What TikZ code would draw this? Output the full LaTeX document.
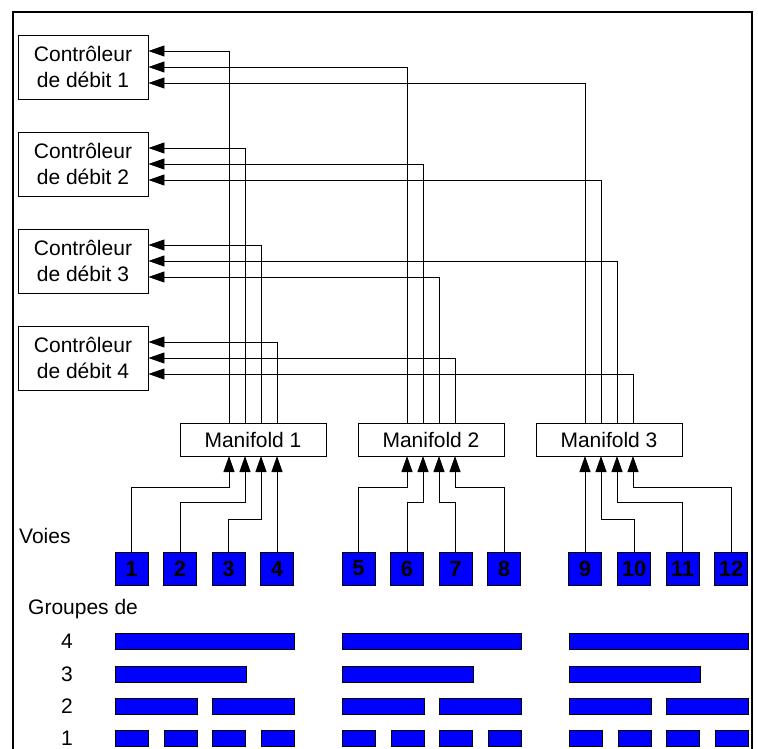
\documentclass[tikz,border=0pt]{standalone}
\usepackage{fontspec}
\setmainfont{Liberation Sans}
\usepackage{tikz}
\usetikzlibrary{positioning, arrows.meta}

\tikzset{
  ctrl/.style={draw=black, line width=0.9pt, minimum width=130pt, minimum height=64pt, inner sep=0pt, align=center, font=\fontsize{21}{26}\selectfont},
  mani/.style={draw=black, line width=0.9pt, minimum width=146pt, minimum height=33pt, inner sep=0pt, font=\fontsize{21}{24}\selectfont},
  voie/.style={draw=black, line width=0.9pt, fill=blue, minimum size=33pt, inner sep=0pt, font=\fontsize{22}{24}\selectfont\bfseries},
  barre/.style={draw=black, line width=0.9pt, fill=blue, minimum height=16pt, inner sep=0pt, anchor=west},
  lbl/.style={inner sep=0pt, font=\fontsize{21}{24}\selectfont},
  arr/.style={line width=0.9pt, -{Triangle[length=16pt, width=11pt]}}
}

\begin{document}
\begin{tikzpicture}[x=1pt, y=-1pt]
            \useasboundingbox (0,0) rectangle (758,749);
            \draw[line width=1.8pt] (13,752) -- (13,12) -- (752,12) -- (752,752);

            \node[ctrl] (c1) at (83, 67) {Contrôleur\\de débit 1};
            \node[ctrl] (c2) at (83, 164) {Contrôleur\\de débit 2};
            \node[ctrl] (c3) at (83, 261) {Contrôleur\\de débit 3};
            \node[ctrl] (c4) at (83, 358) {Contrôleur\\de débit 4};

            \coordinate (c1a) at ([yshift=16pt]c1.east);
            \coordinate (c1b) at (c1.east);
            \coordinate (c1c) at ([yshift=-16pt]c1.east);
            \coordinate (c2a) at ([yshift=16pt]c2.east);
            \coordinate (c2b) at (c2.east);
            \coordinate (c2c) at ([yshift=-16pt]c2.east);
            \coordinate (c3a) at ([yshift=16pt]c3.east);
            \coordinate (c3b) at (c3.east);
            \coordinate (c3c) at ([yshift=-16pt]c3.east);
            \coordinate (c4a) at ([yshift=16pt]c4.east);
            \coordinate (c4b) at (c4.east);
            \coordinate (c4c) at ([yshift=-16pt]c4.east);

            \node[mani] (m1) at (253, 439.5) {Manifold 1};
            \node[mani] (m2) at (431, 439.5) {Manifold 2};
            \node[mani] (m3) at (609, 439.5) {Manifold 3};

            \coordinate (m1a) at (229, 456);
            \coordinate (m1b) at (245, 456);
            \coordinate (m1c) at (261, 456);
            \coordinate (m1d) at (277, 456);
            \coordinate (m2a) at (407, 456);
            \coordinate (m2b) at (423, 456);
            \coordinate (m2c) at (439, 456);
            \coordinate (m2d) at (455, 456);
            \coordinate (m3a) at (585, 456);
            \coordinate (m3b) at (601, 456);
            \coordinate (m3c) at (617, 456);
            \coordinate (m3d) at (633, 456);

            \node[voie] (v1) at (131.5, 568.5) {1};
            \node[voie] (v2) at (180, 568.5) {2};
            \node[voie] (v3) at (228.5, 568.5) {3};
            \node[voie] (v4) at (277, 568.5) {4};
            \node[voie] (v5) at (358.5, 568.5) {5};
            \node[voie] (v6) at (407, 568.5) {6};
            \node[voie] (v7) at (455.5, 568.5) {7};
            \node[voie] (v8) at (504, 568.5) {8};
            \node[voie] (v9) at (585, 568.5) {9};
            \node[voie] (v10) at (634, 568.5) {10};
            \node[voie] (v11) at (682.5, 568.5) {11};
            \node[voie] (v12) at (731, 568.5) {12};

            \node[lbl, anchor=west] (voies) at (19, 536) {Voies};
            \node[lbl, anchor=west] (groupes) at (28, 609) {Groupes de};
            \node[lbl] (n4) at (67, 641) {4};
            \node[lbl] (n3) at (67, 674) {3};
            \node[lbl] (n2) at (67, 706) {2};
            \node[lbl] (n1) at (67, 738) {1};

            \draw[arr] (m1a |- m1.north) |- (c1a);
            \draw[arr] (m2a |- m2.north) |- (c1b);
            \draw[arr] (m3a |- m3.north) |- (c1c);
            \draw[arr] (m1b |- m1.north) |- (c2a);
            \draw[arr] (m2b |- m2.north) |- (c2b);
            \draw[arr] (m3b |- m3.north) |- (c2c);
            \draw[arr] (m1c |- m1.north) |- (c3a);
            \draw[arr] (m3c |- m3.north) |- (c3b);
            \draw[arr] (m2c |- m2.north) |- (c3c);
            \draw[arr] (m1d |- m1.north) |- (c4a);
            \draw[arr] (m2d |- m2.north) |- (c4b);
            \draw[arr] (m3d |- m3.north) |- (c4c);

            \draw[arr] (v1.north) -- ++(0,-64) -| (m1a);
            \draw[arr] (v2.north) -- ++(0,-49) -| (m1b);
            \draw[arr] (v3.north) -- ++(0,-32) -| (m1c);
            \draw[arr] (v4.north) -- (m1d);
            \draw[arr] (v5.north) -- ++(0,-64) -| (m2a);
            \draw[arr] (v6.north) -- ++(0,-49) -| (m2b);
            \draw[arr] (v7.north) -- ++(0,-49) -| (m2c);
            \draw[arr] (v8.north) -- ++(0,-64) -| (m2d);
            \draw[arr] (v9.north) -- (m3a);
            \draw[arr] (v10.north) -- ++(0,-32) -| (m3b);
            \draw[arr] (v11.north) -- ++(0,-49) -| (m3c);
            \draw[arr] (v12.north) -- ++(0,-64) -| (m3d);

            \node[barre, minimum width=179pt] (g4a) at (115, 641) {};
            \node[barre, minimum width=179pt] (g4b) at (342, 641) {};
            \node[barre, minimum width=179pt] (g4c) at (569, 641) {};
            \node[barre, minimum width=130.5pt] (g3a) at (115, 674) {};
            \node[barre, minimum width=130.5pt] (g3b) at (342, 674) {};
            \node[barre, minimum width=130.5pt] (g3c) at (569, 674) {};
            \node[barre, minimum width=81.5pt] (g2a) at (115, 706) {};
            \node[barre, minimum width=81.5pt] (g2b) at (212, 706) {};
            \node[barre, minimum width=81.5pt] (g2c) at (342, 706) {};
            \node[barre, minimum width=81.5pt] (g2d) at (439, 706) {};
            \node[barre, minimum width=81.5pt] (g2e) at (569, 706) {};
            \node[barre, minimum width=81.5pt] (g2f) at (666, 706) {};
            \node[barre, minimum width=33pt] (g1a) at (115, 738) {};
            \node[barre, minimum width=33pt] (g1b) at (163.5, 738) {};
            \node[barre, minimum width=33pt] (g1c) at (212, 738) {};
            \node[barre, minimum width=33pt] (g1d) at (260.5, 738) {};
            \node[barre, minimum width=33pt] (g1e) at (342, 738) {};
            \node[barre, minimum width=33pt] (g1f) at (390.5, 738) {};
            \node[barre, minimum width=33pt] (g1g) at (439, 738) {};
            \node[barre, minimum width=33pt] (g1h) at (487.5, 738) {};
            \node[barre, minimum width=33pt] (g1i) at (569, 738) {};
            \node[barre, minimum width=33pt] (g1j) at (617.5, 738) {};
            \node[barre, minimum width=33pt] (g1k) at (666, 738) {};
            \node[barre, minimum width=33pt] (g1l) at (714.5, 738) {};
        \end{tikzpicture}
\end{document}
